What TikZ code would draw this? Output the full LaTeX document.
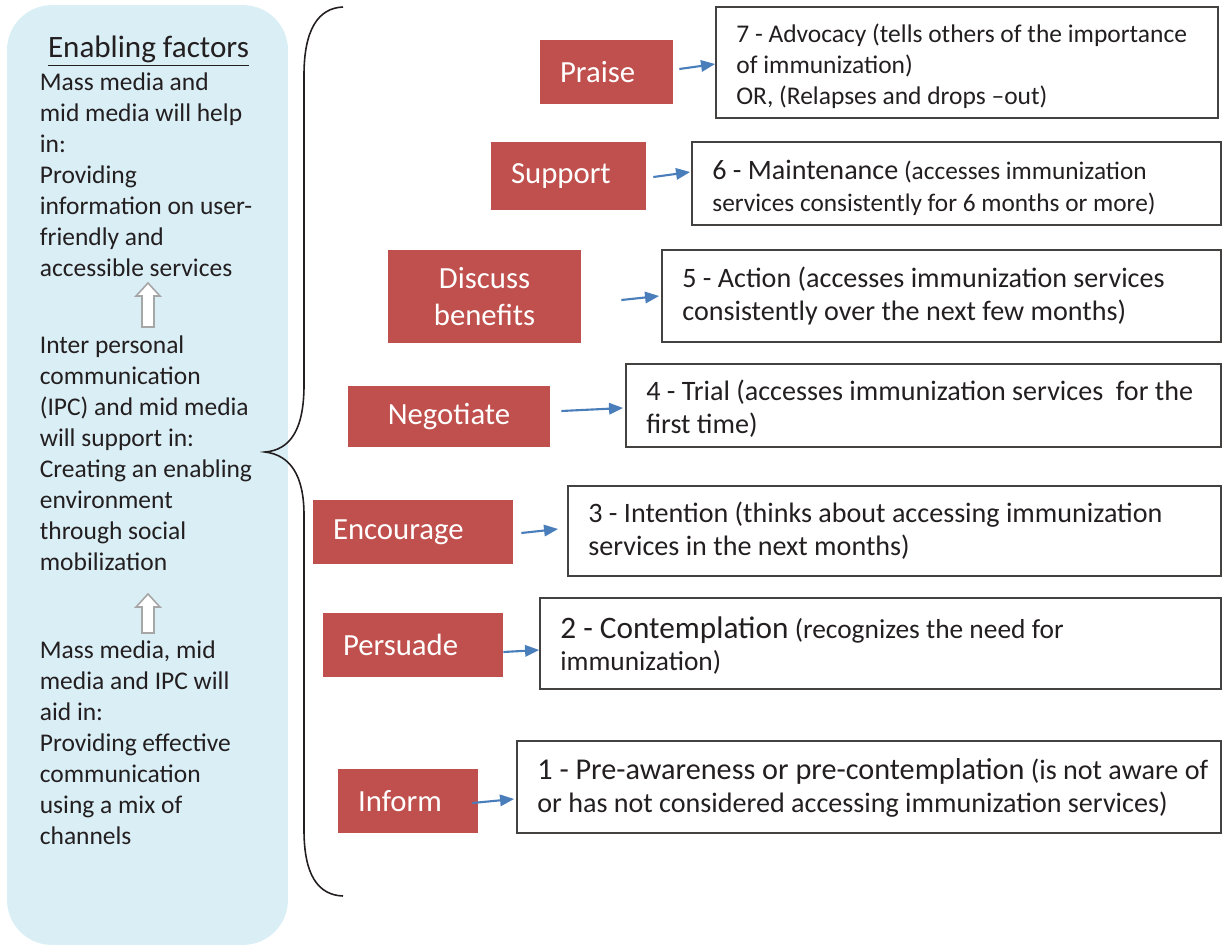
\documentclass[tikz,border=0pt]{standalone}
\usepackage{fontspec}
\setmainfont{Carlito}
\usetikzlibrary{arrows.meta,calc}
\definecolor{panelblue}{HTML}{DAEEF5}
\definecolor{stagered}{HTML}{C0504D}
\definecolor{linkblue}{HTML}{4A7EBB}
\definecolor{ink}{HTML}{231F20}
\newcommand{\setfs}[2]{\fontsize{#1}{#2}\selectfont}

\begin{document}
\begin{tikzpicture}[x=0.02cm,y=-0.02cm,
  panelbox/.style={fill=panelblue, rounded corners=0.9cm, inner sep=0},
  redbox/.style={fill=stagered, text=white, inner xsep=0.4cm, inner ysep=0,
    align=left, font=\setfs{17.5}{21}},
  stagebox/.style={draw=ink!85, line width=1.1pt, fill=white, inner sep=0},
  linkarrow/.style={draw=linkblue, line width=1.2pt,
    -{Triangle[length=8pt,width=6.5pt]}},
  lefttext/.style={anchor=base west, align=left, inner sep=0, text=ink,
    font=\setfs{14.5}{17.6}},
  stagetext/.style={anchor=base west, align=left, inner sep=0, text=ink},
  hollow/.style={fill=white, draw=gray!70, line width=0.9pt}]
\useasboundingbox (0,0) rectangle (1224,947);

% left panel with the enabling factors (multi-line nodes sit on their last baseline)
\node[panelbox, minimum width=5.62cm, minimum height=18.8cm] (panel) at (147.5,475) {};
\node[anchor=base, inner sep=0, text=ink, font=\setfs{17.7}{20}] (title) at (148.5,57.5)
  {\underline{Enabling factors}};
\node[lefttext] (mass) at (39.5,276) {Mass media and\\mid media will help\\in:\\Providing\\information on user-\\friendly and\\accessible services};
\node[lefttext] (ipc) at (39.5,570) {Inter personal\\communication\\(IPC) and mid media\\will support in:\\Creating an enabling\\environment\\through social\\mobilization};
\node[lefttext] (mix) at (39.5,844) {Mass media, mid\\media and IPC will\\aid in:\\Providing effective\\communication\\using a mix of\\channels};

% hollow upward arrows between the blocks
\draw[hollow] (148,283) -- (160,296) -- (154,296) -- (154,327) -- (142,327) -- (142,296) -- (136,296) -- cycle;
\draw[hollow] (148,594) -- (160,607) -- (154,607) -- (154,633) -- (142,633) -- (142,607) -- (136,607) -- cycle;

% curly brace
\draw[ink, line width=0.9pt] (343,7) .. controls (318,8) and (304,30) .. (304,75) -- (304,385)
  .. controls (304,430) and (290,450) .. (265,452)
  .. controls (290,455) and (304,475) .. (304,515) -- (304,830)
  .. controls (304,875) and (318,895) .. (343,896);

% communication actions
\node[redbox, minimum width=2.66cm, minimum height=1.28cm, text width=1.86cm] (praise) at (606.5,72) {Praise};
\node[redbox, minimum width=3.1cm, minimum height=1.36cm, text width=2.3cm] (support) at (568.5,176) {Support};
\node[redbox, minimum width=3.86cm, minimum height=1.86cm, text width=3.06cm, align=center] (discuss) at (484.5,296.5) {Discuss\\benefits};
\node[redbox, minimum width=4.04cm, minimum height=1.22cm, text width=3.24cm, align=center] (negotiate) at (449,416.5) {Negotiate};
\node[redbox, minimum width=4.0cm, minimum height=1.28cm, text width=3.2cm] (encourage) at (413,532) {Encourage};
\node[redbox, minimum width=3.6cm, minimum height=1.28cm, text width=2.8cm] (persuade) at (413,645) {Persuade};
\node[redbox, minimum width=2.8cm, minimum height=1.28cm, text width=2.0cm] (inform) at (408,801) {Inform};

% stages of change
\node[stagebox, minimum width=10.04cm, minimum height=2.22cm] (s7) at (967,62.5) {};
\node[stagebox, minimum width=10.58cm, minimum height=1.66cm] (s6) at (956.5,183.5) {};
\node[stagebox, minimum width=11.18cm, minimum height=1.84cm] (s5) at (941.5,296) {};
\node[stagebox, minimum width=11.9cm, minimum height=1.66cm] (s4) at (923.5,405.5) {};
\node[stagebox, minimum width=13.06cm, minimum height=1.8cm] (s3) at (894.5,531) {};
\node[stagebox, minimum width=13.62cm, minimum height=1.82cm] (s2) at (880.5,643.5) {};
\node[stagebox, minimum width=14.08cm, minimum height=1.84cm] (s1) at (869,787) {};

\node[stagetext, font=\setfs{14.5}{17.6}] (t7) at (736,104) {7 - Advocacy (tells others of the importance\\of immunization)\\OR, (Relapses and drops --out)};
\node[stagetext, font=\setfs{14.4}{18.1}] (t6) at (712,211) {{\setfs{16}{18.1}6 - Maintenance} (accesses immunization\\services consistently for 6 months or more)};
\node[stagetext, font=\setfs{16}{18.7}] (t5) at (682,320) {5 - Action (accesses immunization services\\consistently over the next few months)};
\node[stagetext, font=\setfs{16}{18.7}] (t4) at (646,433) {4 - Trial (accesses immunization services\ \ for the\\first time)};
\node[stagetext, font=\setfs{16}{18.7}] (t3) at (588,555) {3 - Intention (thinks about accessing immunization\\services in the next months)};
\node[stagetext, font=\setfs{15.6}{18.1}] (t2) at (560,670) {{\setfs{17.8}{18.1}2 - Contemplation} (recognizes the need for\\immunization)};
\node[stagetext, font=\setfs{16}{18.7}] (t1) at (537,812) {{\setfs{17.2}{18.7}1 - Pre-awareness or pre-contemplation} (is not aware of\\or has not considered accessing immunization services)};

% links from actions to stages
\draw[linkarrow] ($(praise.east)+(6,-3)$) -- ($(s7.west)+(0,1.5)$);
\draw[linkarrow] ($(support.east)+(7,1)$) -- ($(s6.west)+(-1,-11.5)$);
\draw[linkarrow] ($(discuss.east)+(40,3.5)$) -- ($(s5.west)+(-2,0)$);
\draw[linkarrow] ($(negotiate.east)+(11,-5.5)$) -- ($(s4.west)+(-2,2.5)$);
\draw[linkarrow] ($(encourage.east)+(8,1)$) -- ($(s3.west)+(-9,-2)$);
\draw[linkarrow] ($(persuade.east)+(0,7)$) -- ($(s2.west)+(0,6.5)$);
\draw[linkarrow] ($(inform.east)+(-6,2)$) -- ($(s1.west)+(-2,12)$);
\end{tikzpicture}
\end{document}
